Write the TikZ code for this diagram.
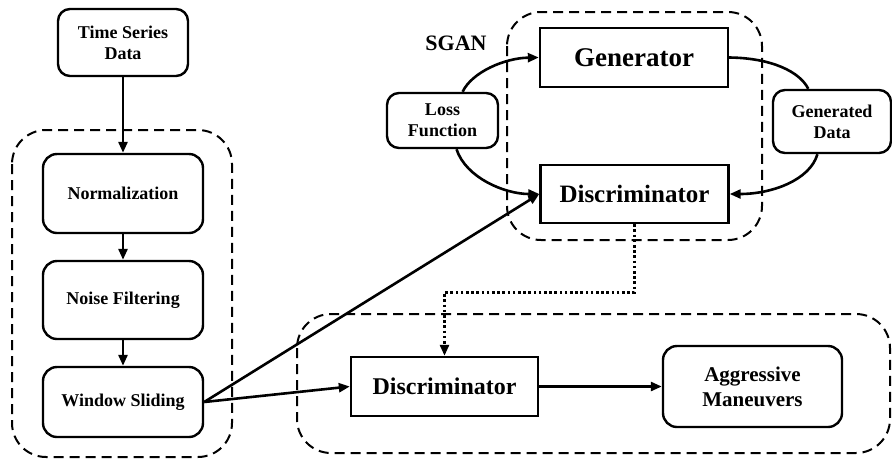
\documentclass[tikz,border=0pt]{standalone}
\usepackage{fontspec}
\setmainfont{Liberation Serif}
\usetikzlibrary{arrows.meta}

\tikzset{
  box/.style={draw, line width=2.4pt, align=center, inner sep=2pt,
    font=\bfseries\fontsize{18}{21}\selectfont},
  rbox/.style={box, rounded corners=12pt},
  group/.style={draw, line width=2pt, dash pattern=on 10pt off 6pt, rounded corners=34pt},
  link/.style={line width=2.6pt, -{Triangle[length=11pt,width=9pt]}},
}

\begin{document}
\begin{tikzpicture}[x=1pt, y=-1pt]
        \useasboundingbox (0,0) rectangle (892,459);
        % dashed groups
        \draw[group] (12,130) rectangle (232,457);
        \draw[group] (507,12) rectangle (762,240);
        \draw[group] (297,314) rectangle (890,453);
        % preprocessing
        \node[rbox, minimum width=130pt, minimum height=67pt] (tsd) at (123,42.5) {Time Series\\Data};
        \node[rbox, minimum width=160pt, minimum height=79pt, rounded corners=14pt] (norm) at (123,193.5) {Normalization};
        \node[rbox, minimum width=160pt, minimum height=78pt, rounded corners=14pt] (noise) at (123,300) {Noise Filtering};
        \node[rbox, minimum width=160pt, minimum height=70pt, rounded corners=14pt] (window) at (123,402) {Window Sliding};
        % SGAN
        \node[font=\bfseries\fontsize{22}{26}\selectfont] (sgan) at (456,43) {SGAN};
        \node[box, minimum width=188pt, minimum height=59pt, font=\bfseries\fontsize{27}{30}\selectfont] (gen) at (634,57.5) {Generator};
        \node[box, minimum width=188pt, minimum height=58pt, font=\bfseries\fontsize{25}{30}\selectfont] (disc) at (634.5,194) {Discriminator};
        \node[rbox, minimum width=111pt, minimum height=55pt] (loss) at (442.5,120.5) {Loss\\Function};
        \node[rbox, minimum width=118pt, minimum height=63pt] (gdata) at (832,121.5) {Generated\\Data};
        % detection
        \node[box, minimum width=187pt, minimum height=59pt, font=\bfseries\fontsize{24}{28}\selectfont] (ldisc) at (444.5,386.5) {Discriminator};
        \node[rbox, minimum width=179pt, minimum height=81pt, rounded corners=14pt, font=\bfseries\fontsize{21}{25}\selectfont] (aggr) at (752.5,386.5) {Aggressive\\Maneuvers};

        \draw[link] (tsd) -- (norm);
        \draw[link] (norm) -- (noise);
        \draw[link] (noise) -- (window);
        \draw[link] (window.east) -- (disc.west);
        \draw[link] (window.east) -- (ldisc.west);
        \draw[link] (ldisc) -- (aggr);

        \draw[link] (loss.55) .. controls (472,72) and (505,58) .. (gen.west);
        \draw[link] (loss.296) .. controls (466,178) and (505,194) .. (disc.west);
        \draw[line width=2.6pt] (gen.east) .. controls (772,58) and (800,72) .. (gdata.126);
        \draw[link] (gdata.246) .. controls (810,180) and (772,194) .. (disc.east);
        \draw[link, dash pattern=on 2.6pt off 2.6pt] (disc.south) -- ++(0,68) -| (ldisc.north);
\end{tikzpicture}
\end{document}
